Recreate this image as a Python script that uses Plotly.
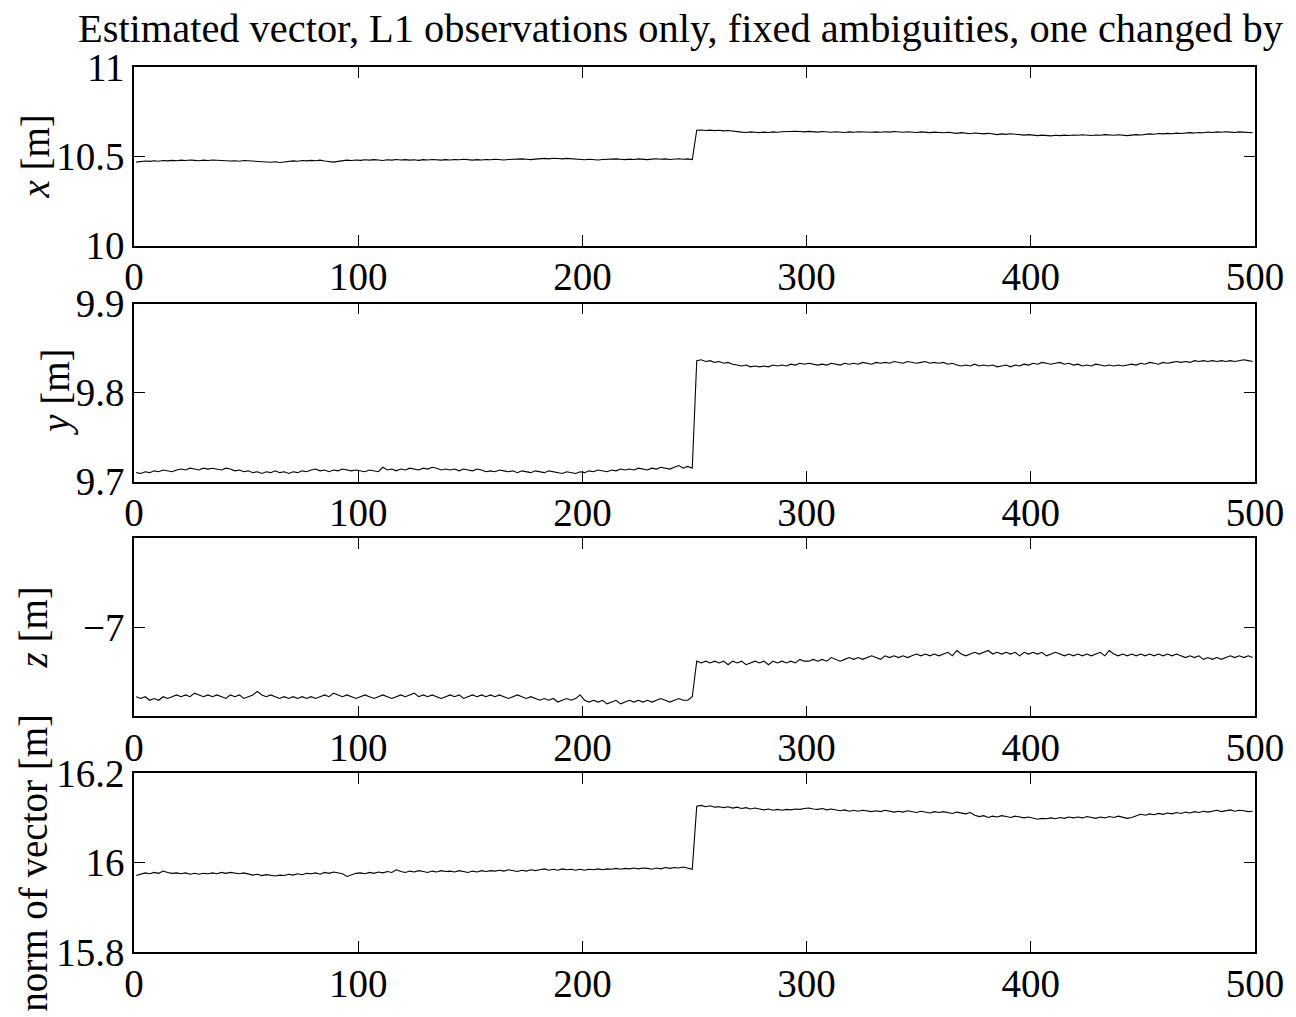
import plotly.graph_objects as go
from plotly.subplots import make_subplots

# Epoch index (every second epoch of the 500-epoch run)
epochs = list(range(1, 500, 2))

# Estimated baseline components [m]
x_m = [
    10.468, 10.471, 10.474, 10.472, 10.476, 10.473, 10.477, 10.475, 10.478, 10.476,
    10.479, 10.477, 10.480, 10.478, 10.476, 10.479, 10.477, 10.480, 10.478, 10.475,
    10.477, 10.474, 10.476, 10.473, 10.477, 10.475, 10.472, 10.474, 10.471, 10.469,
    10.467, 10.470, 10.466, 10.469, 10.472, 10.475, 10.473, 10.477, 10.475, 10.478,
    10.476, 10.479, 10.474, 10.470, 10.468, 10.472, 10.476, 10.479, 10.477, 10.480,
    10.478, 10.481, 10.479, 10.482, 10.480, 10.477, 10.481, 10.479, 10.483, 10.480,
    10.482, 10.479, 10.481, 10.478, 10.482, 10.480, 10.483, 10.481, 10.479, 10.482,
    10.480, 10.483, 10.481, 10.484, 10.482, 10.479, 10.482, 10.480, 10.483, 10.481,
    10.484, 10.482, 10.480, 10.483, 10.485, 10.483, 10.486, 10.484, 10.482, 10.485,
    10.487, 10.489, 10.486, 10.490, 10.488, 10.486, 10.489, 10.487, 10.485, 10.483,
    10.481, 10.484, 10.482, 10.480, 10.483, 10.485, 10.483, 10.486, 10.484, 10.482,
    10.485, 10.483, 10.486, 10.484, 10.482, 10.485, 10.487, 10.484, 10.486, 10.483,
    10.485, 10.487, 10.484, 10.486, 10.482, 10.646, 10.648, 10.645, 10.647, 10.644,
    10.646, 10.643, 10.645, 10.641, 10.638, 10.636, 10.634, 10.637, 10.635, 10.633,
    10.636, 10.634, 10.637, 10.635, 10.638, 10.640, 10.638, 10.641, 10.639, 10.637,
    10.640, 10.638, 10.636, 10.639, 10.637, 10.635, 10.638, 10.636, 10.634, 10.637,
    10.635, 10.638, 10.636, 10.633, 10.635, 10.637, 10.635, 10.638, 10.636, 10.639,
    10.637, 10.635, 10.638, 10.636, 10.634, 10.637, 10.635, 10.633, 10.636, 10.634,
    10.632, 10.635, 10.631, 10.629, 10.633, 10.630, 10.627, 10.631, 10.628, 10.626,
    10.629, 10.625, 10.622, 10.626, 10.623, 10.627, 10.624, 10.621, 10.619, 10.622,
    10.618, 10.616, 10.619, 10.617, 10.615, 10.618, 10.616, 10.619, 10.617, 10.620,
    10.618, 10.621, 10.619, 10.617, 10.620, 10.618, 10.622, 10.620, 10.618, 10.621,
    10.619, 10.616, 10.619, 10.622, 10.620, 10.624, 10.626, 10.624, 10.628, 10.626,
    10.629, 10.627, 10.630, 10.628, 10.631, 10.633, 10.631, 10.634, 10.632, 10.636,
    10.634, 10.637, 10.635, 10.638, 10.636, 10.634, 10.637, 10.635, 10.633, 10.632,
]

y_m = [
    9.710, 9.709, 9.711, 9.710, 9.712, 9.711, 9.713, 9.712, 9.711, 9.713,
    9.714, 9.713, 9.715, 9.714, 9.713, 9.715, 9.714, 9.715, 9.714, 9.713,
    9.715, 9.714, 9.712, 9.713, 9.711, 9.712, 9.710, 9.711, 9.709, 9.711,
    9.710, 9.712, 9.710, 9.711, 9.709, 9.711, 9.710, 9.712, 9.711, 9.713,
    9.714, 9.712, 9.713, 9.711, 9.713, 9.712, 9.714, 9.713, 9.712, 9.713,
    9.712, 9.711, 9.713, 9.712, 9.711, 9.716, 9.713, 9.714, 9.712, 9.714,
    9.713, 9.715, 9.714, 9.713, 9.715, 9.714, 9.716, 9.715, 9.713, 9.714,
    9.713, 9.714, 9.712, 9.714, 9.713, 9.712, 9.714, 9.713, 9.711, 9.712,
    9.711, 9.713, 9.712, 9.711, 9.712, 9.710, 9.712, 9.711, 9.710, 9.712,
    9.711, 9.710, 9.712, 9.711, 9.710, 9.709, 9.711, 9.710, 9.709, 9.711,
    9.710, 9.712, 9.711, 9.713, 9.712, 9.711, 9.713, 9.712, 9.714, 9.713,
    9.714, 9.713, 9.715, 9.714, 9.713, 9.715, 9.714, 9.716, 9.715, 9.714,
    9.716, 9.718, 9.715, 9.717, 9.715, 9.836, 9.837, 9.835, 9.836, 9.834,
    9.835, 9.833, 9.834, 9.832, 9.831, 9.830, 9.831, 9.829, 9.830, 9.829,
    9.830, 9.829, 9.831, 9.830, 9.831, 9.830, 9.832, 9.831, 9.833, 9.832,
    9.833, 9.832, 9.831, 9.832, 9.831, 9.833, 9.832, 9.831, 9.833, 9.832,
    9.833, 9.832, 9.834, 9.833, 9.832, 9.834, 9.833, 9.834, 9.833, 9.835,
    9.834, 9.833, 9.835, 9.834, 9.833, 9.834, 9.835, 9.833, 9.834, 9.833,
    9.834, 9.832, 9.833, 9.831, 9.830, 9.831, 9.830, 9.832, 9.830, 9.831,
    9.830, 9.831, 9.829, 9.830, 9.831, 9.829, 9.831, 9.830, 9.832, 9.831,
    9.833, 9.832, 9.834, 9.833, 9.832, 9.833, 9.834, 9.832, 9.833, 9.831,
    9.832, 9.830, 9.831, 9.830, 9.832, 9.831, 9.830, 9.831, 9.830, 9.831,
    9.830, 9.831, 9.832, 9.831, 9.833, 9.832, 9.834, 9.833, 9.832, 9.834,
    9.833, 9.834, 9.835, 9.834, 9.835, 9.834, 9.836, 9.835, 9.836, 9.835,
    9.836, 9.835, 9.836, 9.835, 9.836, 9.835, 9.836, 9.837, 9.836, 9.835,
]

z_m = [
    -7.039, -7.040, -7.039, -7.041, -7.040, -7.041, -7.039, -7.040, -7.039, -7.038,
    -7.039, -7.038, -7.039, -7.037, -7.038, -7.039, -7.038, -7.039, -7.038, -7.039,
    -7.040, -7.038, -7.039, -7.038, -7.040, -7.039, -7.038, -7.036, -7.038, -7.039,
    -7.038, -7.039, -7.040, -7.039, -7.040, -7.039, -7.040, -7.039, -7.040, -7.039,
    -7.040, -7.039, -7.038, -7.039, -7.037, -7.038, -7.039, -7.038, -7.039, -7.040,
    -7.039, -7.038, -7.039, -7.040, -7.039, -7.038, -7.039, -7.040, -7.039, -7.038,
    -7.039, -7.038, -7.037, -7.039, -7.038, -7.039, -7.038, -7.039, -7.040, -7.039,
    -7.038, -7.039, -7.038, -7.040, -7.039, -7.038, -7.039, -7.038, -7.039, -7.038,
    -7.039, -7.038, -7.039, -7.040, -7.039, -7.038, -7.039, -7.040, -7.039, -7.040,
    -7.041, -7.040, -7.041, -7.040, -7.042, -7.041, -7.040, -7.041, -7.040, -7.038,
    -7.041, -7.042, -7.041, -7.042, -7.041, -7.043, -7.042, -7.041, -7.043, -7.042,
    -7.041, -7.042, -7.041, -7.042, -7.041, -7.042, -7.041, -7.040, -7.041, -7.042,
    -7.041, -7.040, -7.041, -7.041, -7.039, -7.019, -7.020, -7.019, -7.020, -7.019,
    -7.020, -7.019, -7.021, -7.019, -7.020, -7.019, -7.021, -7.020, -7.019, -7.020,
    -7.019, -7.021, -7.019, -7.020, -7.019, -7.020, -7.019, -7.020, -7.018, -7.019,
    -7.019, -7.018, -7.019, -7.018, -7.019, -7.017, -7.018, -7.019, -7.018, -7.017,
    -7.018, -7.017, -7.018, -7.017, -7.016, -7.017, -7.018, -7.016, -7.017, -7.016,
    -7.017, -7.016, -7.017, -7.016, -7.015, -7.016, -7.015, -7.016, -7.015, -7.016,
    -7.015, -7.014, -7.016, -7.013, -7.015, -7.016, -7.015, -7.014, -7.015, -7.014,
    -7.013, -7.015, -7.014, -7.015, -7.014, -7.015, -7.014, -7.016, -7.014, -7.015,
    -7.014, -7.015, -7.014, -7.016, -7.015, -7.014, -7.015, -7.016, -7.015, -7.016,
    -7.015, -7.016, -7.015, -7.016, -7.015, -7.014, -7.016, -7.013, -7.015, -7.016,
    -7.015, -7.016, -7.015, -7.016, -7.015, -7.016, -7.015, -7.016, -7.015, -7.016,
    -7.015, -7.016, -7.015, -7.016, -7.017, -7.016, -7.017, -7.016, -7.018, -7.017,
    -7.018, -7.017, -7.018, -7.017, -7.016, -7.017, -7.016, -7.017, -7.016, -7.017,
]

norm_m = [
    15.971, 15.974, 15.977, 15.975, 15.978, 15.976, 15.981, 15.978, 15.976, 15.977,
    15.975, 15.977, 15.974, 15.976, 15.974, 15.976, 15.975, 15.977, 15.975, 15.978,
    15.976, 15.978, 15.977, 15.975, 15.977, 15.974, 15.972, 15.974, 15.971, 15.973,
    15.971, 15.970, 15.972, 15.971, 15.974, 15.972, 15.975, 15.973, 15.976, 15.975,
    15.977, 15.974, 15.978, 15.976, 15.979, 15.977, 15.975, 15.969, 15.973, 15.976,
    15.977, 15.975, 15.978, 15.976, 15.979, 15.977, 15.980, 15.978, 15.984, 15.980,
    15.978, 15.981, 15.979, 15.982, 15.980, 15.978, 15.981, 15.979, 15.982, 15.980,
    15.981, 15.979, 15.982, 15.980, 15.978, 15.981, 15.979, 15.982, 15.980, 15.982,
    15.981, 15.983, 15.981, 15.984, 15.982, 15.980, 15.983, 15.981, 15.984, 15.982,
    15.984, 15.986, 15.983, 15.985, 15.983, 15.986, 15.984, 15.985, 15.983, 15.985,
    15.983, 15.985, 15.984, 15.986, 15.984, 15.986, 15.985, 15.987, 15.985, 15.987,
    15.986, 15.988, 15.986, 15.988, 15.987, 15.985, 15.988, 15.986, 15.989, 15.987,
    15.989, 15.988, 15.990, 15.987, 15.985, 16.126, 16.128, 16.125, 16.127, 16.124,
    16.125, 16.123, 16.125, 16.122, 16.124, 16.121, 16.123, 16.120, 16.122, 16.120,
    16.118, 16.120, 16.117, 16.119, 16.117, 16.119, 16.118, 16.120, 16.119, 16.121,
    16.122, 16.120, 16.119, 16.121, 16.118, 16.120, 16.118, 16.116, 16.118, 16.115,
    16.117, 16.115, 16.117, 16.116, 16.114, 16.116, 16.114, 16.117, 16.115, 16.113,
    16.115, 16.113, 16.116, 16.114, 16.112, 16.115, 16.113, 16.111, 16.114, 16.112,
    16.114, 16.112, 16.110, 16.113, 16.111, 16.109, 16.112, 16.106, 16.103, 16.105,
    16.101, 16.104, 16.102, 16.105, 16.103, 16.101, 16.104, 16.102, 16.100, 16.102,
    16.099, 16.097, 16.099, 16.098, 16.100, 16.098, 16.101, 16.099, 16.102, 16.100,
    16.102, 16.100, 16.103, 16.101, 16.099, 16.102, 16.100, 16.103, 16.101, 16.104,
    16.102, 16.099, 16.101, 16.105, 16.108, 16.106, 16.109, 16.107, 16.110, 16.108,
    16.111, 16.109, 16.112, 16.110, 16.113, 16.111, 16.114, 16.112, 16.115, 16.113,
    16.115, 16.117, 16.114, 16.116, 16.118, 16.115, 16.117, 16.116, 16.114, 16.115,
]

x_ticks = [0, 100, 200, 300, 400, 500]
panel_series = [x_m, y_m, z_m, norm_m]
panel_labels = ["<i>x</i> [m]", "<i>y</i> [m]", "<i>z</i> [m]", "norm of vector [m]"]
panel_ranges = [[10, 11], [9.7, 9.9], [-7.05, -6.95], [15.8, 16.2]]
panel_yticks = [[10, 10.5, 11], [9.7, 9.8, 9.9], [-7], [15.8, 16, 16.2]]
panel_yticktext = [["10", "10.5", "11"], ["9.7", "9.8", "9.9"], ["\u22127"], ["15.8", "16", "16.2"]]
title_text = "Estimated vector, L1 observations only, fixed ambiguities, one changed by"

W, H = 1296, 1017
ML, MR, MT, MB = 134, 39, 67, 64
plot_h = H - MT - MB
plot_w = W - ML - MR
# pixel rows (top, bottom) of each panel
panel_px = [(67, 246), (304, 482), (539, 717), (774, 953)]
label_px_x = [35, 55, 33, 33]

FONT = "Liberation Serif, Times New Roman, serif"
FS = 39

fig = make_subplots(rows=4, cols=1)

for i, vals in enumerate(panel_series):
    fig.add_trace(
        go.Scatter(x=epochs, y=vals, mode="lines",
                   line=dict(color="black", width=1.1), showlegend=False),
        row=i + 1, col=1,
    )

axis_common = dict(
    showline=True, linecolor="black", linewidth=1.5, mirror="ticks",
    ticks="inside", ticklen=11, tickwidth=1, tickcolor="black",
    showgrid=False, zeroline=False,
    tickfont=dict(family=FONT, size=FS, color="black"),
)

annotations = []
for i in range(4):
    top, bot = panel_px[i]
    d0 = (H - MB - bot) / plot_h
    d1 = (H - MB - top) / plot_h
    xa = "xaxis" if i == 0 else f"xaxis{i + 1}"
    ya = "yaxis" if i == 0 else f"yaxis{i + 1}"
    fig.layout[xa].update(range=[0, 500], tickvals=x_ticks,
                          ticktext=[str(t) for t in x_ticks],
                          ticklabelstandoff=-4, **axis_common)
    fig.layout[ya].update(domain=[d0, d1], range=panel_ranges[i],
                          tickvals=panel_yticks[i], ticktext=panel_yticktext[i],
                          **axis_common)
    annotations.append(dict(
        text=panel_labels[i], textangle=-90, showarrow=False,
        xref="paper", yref="paper",
        x=(label_px_x[i] - ML) / plot_w, y=(d0 + d1) / 2,
        xanchor="center", yanchor="middle",
        font=dict(family=FONT, size=FS, color="black"),
    ))

fig.update_layout(
    width=W, height=H,
    margin=dict(l=ML, r=MR, t=MT, b=MB),
    paper_bgcolor="white", plot_bgcolor="white",
    title=dict(text=title_text, x=78 / W, xanchor="left", xref="container",
               y=1 - 28 / H, yanchor="middle", yref="container",
               font=dict(family=FONT, size=40.4, color="black")),
    annotations=annotations,
    font=dict(family=FONT, color="black"),
)

fig.write_html("out.html")
